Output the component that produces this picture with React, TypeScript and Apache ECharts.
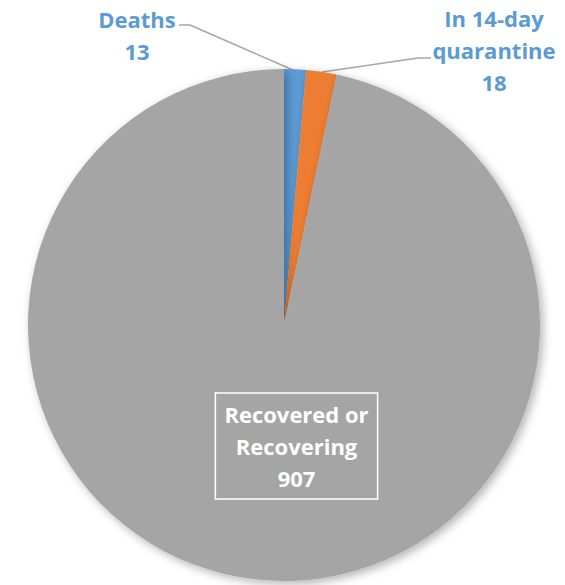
import React, { useEffect, useRef } from "react";
import * as echarts from "echarts";

const categories = ["Deaths", "In 14-day\nquarantine", "Recovered or\nRecovering"];
const values = [13, 18, 907];
const colors = ["#5B9BD5", "#ED7D31", "#A5A5A5"];

export default function App() {
  const ref = useRef<HTMLDivElement>(null);
  useEffect(() => {
    const chart = echarts.init(ref.current!, null, { renderer: "svg" });
    const font = "'Open Sans', Lato, sans-serif";
    chart.setOption({
      animation: false,
      backgroundColor: "#ffffff",
      series: [
        {
          type: "pie",
          center: [284, 325],
          radius: [0, 256],
          startAngle: 90,
          clockwise: true,
          avoidLabelOverlap: false,
          data: categories.map((name, i) => ({
            name,
            value: values[i],
            itemStyle: { color: colors[i] },
            label:
              i === 2
                ? {
                    position: "inside",
                    color: "#ffffff",
                    borderColor: "#ffffff",
                    borderWidth: 1.5,
                    padding: [5, 9, 5, 9],
                  }
                : { position: "outside", color: "#5B9BD5" },
            labelLine: { show: i !== 2 },
          })),
          itemStyle: {
            shadowBlur: 10,
            shadowOffsetX: 3,
            shadowOffsetY: 3,
            shadowColor: "rgba(0,0,0,0.3)",
          },
          label: {
            show: true,
            formatter: "{b}\n{c}",
            fontFamily: font,
            fontWeight: "bold",
            fontSize: 22,
            lineHeight: 32,
            align: "center",
          },
          labelLine: {
            show: true,
            lineStyle: { color: "#A6A6A6", width: 1.5 },
          },
          labelLayout: (params: any) => {
            if (params.dataIndex === 0) {
              return {
                x: 137,
                y: 35,
                align: "center",
                verticalAlign: "middle",
                labelLinePoints: [
                  [293, 70],
                  [190, 25],
                  [179, 25],
                ],
              };
            }
            if (params.dataIndex === 1) {
              return {
                x: 494,
                y: 50,
                align: "center",
                verticalAlign: "middle",
                labelLinePoints: [
                  [322, 72],
                  [418, 58],
                  [431, 58],
                ],
              };
            }
            return { x: 296.5, y: 446, align: "center", verticalAlign: "middle" };
          },
        },
      ],
    });
    return () => chart.dispose();
  }, []);
  return (
    <div
      ref={ref}
      style={{ position: "fixed", left: 0, top: 0, width: 565, height: 585 }}
    />
  );
}
